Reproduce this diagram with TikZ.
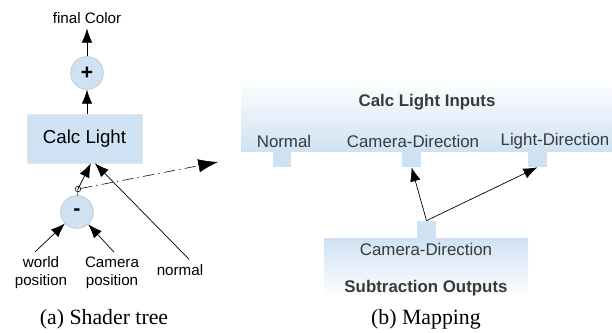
\documentclass[tikz,border=0pt]{standalone}
\usepackage{fontspec}
\setmainfont{Liberation Sans}
\newfontfamily\capfont{Liberation Serif}
\usetikzlibrary{arrows.meta}
\definecolor{lightblue}{HTML}{CFE2F3}
\definecolor{rimgray}{HTML}{BDBDBD}
\definecolor{textgray}{HTML}{3A3A3A}

\begin{document}
\begin{tikzpicture}[
    opnode/.style={circle, draw=rimgray, fill=lightblue, minimum size=0.82cm, inner sep=0pt, font=\fontsize{15}{15}\selectfont\bfseries},
    lbl/.style={font=\fontsize{10.8}{12.8}\selectfont, align=center},
    pinlbl/.style={font=\fontsize{12}{14}\selectfont, text=textgray},
    tab/.style={fill=lightblue, minimum width=0.47cm, minimum height=0.4cm, inner sep=0pt},
    subcap/.style={font=\capfont\fontsize{15.5}{16}\selectfont},
    arr/.style={-{Latex[length=10pt,width=7.5pt]}, line width=0.5pt},
  ]
  \useasboundingbox (0,0) rectangle (15.3,8.3);

  % Shader-Baum
  \node[lbl] (final) at (2.175,7.85) {final Color};
  \node[opnode] (plus) at (2.175,6.475) {+};
  \node[draw=lightblue!70!gray!40, fill=lightblue, minimum width=2.875cm, minimum height=1.225cm,
    font=\fontsize{13.3}{14}\selectfont] (calc) at (2.1125,4.8375) {Calc Light};
  \node[opnode] (minus) at (1.925,3.0) {-};
  \node[circle, draw, inner sep=0pt, minimum size=0.14cm] (tap) at (1.95,3.575) {};
  \coordinate (target) at (5.45,4.25);

  % Blaetter
  \node[lbl] (world) at (1.025,1.475) {world\\position};
  \node[lbl] (campos) at (2.8,1.475) {Camera\\position};
  \node[lbl] (normal) at (4.5,1.55) {normal};

  % Kanten
  \draw[arr] (plus) -- (final);
  \draw[arr] (calc.north -| plus) -- (plus);
  \draw (minus) -- (tap.center);
  \draw[arr] (tap.center) -- ([xshift=1.6mm]calc.south);
  \draw[arr] ([xshift=2.3mm]normal.north) -- ([xshift=2.6mm]calc.south);
  \draw[arr] ([xshift=-1.5mm]world.north) -- (minus);
  \draw[arr] ([xshift=0.5mm]campos.north) -- (minus);
  \draw[-{Latex[length=14pt,width=9.5pt]}, dash pattern=on 8pt off 3pt on 1pt off 3pt] (tap) -- (target);

  % Mapping
  \node[top color=white, bottom color=lightblue, minimum width=9.275cm, minimum height=1.8cm,
    inner sep=0pt] (inputs) at (10.6625,5.425) {};
  \node[font=\fontsize{12}{14}\selectfont\bfseries, text=textgray] (inhead) at (10.675,5.75) {Calc Light Inputs};
  \node[pinlbl] (innormal) at (7.1,4.775) {Normal};
  \node[pinlbl] (incam) at (10.325,4.775) {Camera-Direction};
  \node[pinlbl] (inlight) at (13.875,4.775) {Light-Direction};
  \node[tab] (tabnormal) at (7.05,4.325) {};
  \node[tab] (tabcam) at (10.2875,4.325) {};
  \node[tab] (tablight) at (13.4375,4.325) {};

  \node[top color=lightblue, bottom color=white, minimum width=5.1cm, minimum height=1.5cm,
    inner sep=0pt] (outputs) at (10.65,1.6) {};
  \node[tab, minimum height=0.43cm] (tabout) at (10.6625,2.5625) {};
  \node[pinlbl] (outcam) at (10.65,2.075) {Camera-Direction};
  \node[font=\fontsize{12}{14}\selectfont\bfseries, text=textgray] (outhead) at (10.65,1.1) {Subtraction Outputs};

  \draw[arr] (tabout.north) -- (tabcam.south);
  \draw[arr] (tabout.north) -- (tablight.south);

  % Unterschriften
  \node[subcap] (capa) at (2.6,0.325) {(a) Shader tree};
  \node[subcap] (capb) at (10.65,0.325) {(b) Mapping};
\end{tikzpicture}
\end{document}
